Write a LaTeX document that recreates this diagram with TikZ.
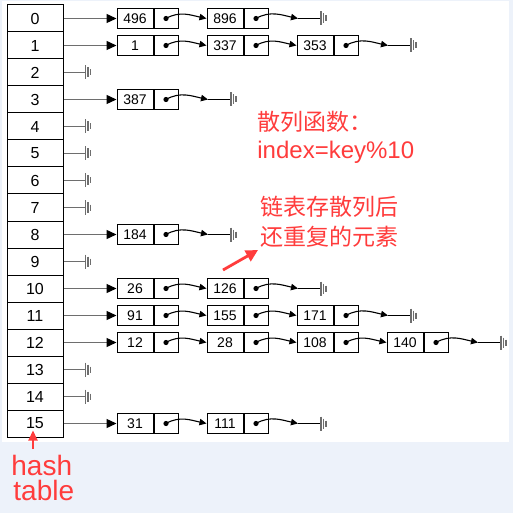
\documentclass[tikz,border=0pt]{standalone}
\usepackage{fontspec}
\setmainfont{Liberation Sans}
\newfontfamily\cjk{Noto Sans CJK SC}
\usetikzlibrary{arrows.meta,positioning}
\definecolor{pagebg}{HTML}{EDF2FA}
\definecolor{hashred}{HTML}{FF3C3C}
\definecolor{wiregrey}{HTML}{6E6E6E}
\tikzset{
  slot/.style={draw, line width=0.5pt, minimum width=28pt, minimum height=13.5pt,
               inner sep=0pt, font=\fontsize{8}{9}\selectfont},
  keybox/.style={draw, line width=0.5pt, minimum width=18pt, minimum height=10pt,
                 inner sep=0pt, font=\fontsize{7}{8}\selectfont},
  ptrbox/.style={draw, line width=0.5pt, minimum width=12pt, minimum height=10pt,
                 inner sep=0pt},
  entry/.style={-{Triangle[length=5pt,width=4.5pt,color=black]}, line width=0.7pt,
                draw=wiregrey},
  hop/.style={-{Triangle[length=3.5pt,width=3.2pt]}, line width=0.55pt,
              out=30, in=168},
  wire/.style={line width=0.6pt, draw=wiregrey},
  note/.style={font=\cjk\fontsize{11.5}{14}\selectfont, text=hashred, inner sep=1pt},
  pointer/.style={-{Triangle[length=6pt,width=6pt]}, line width=1.4pt, draw=hashred},
  gnd/.pic={\draw[wiregrey, line width=0.75pt] (0,-7) -- (0,7) (2.5,-5) -- (2.5,5)
            (5,-3) -- (5,3);},
}

\begin{document}
\begin{tikzpicture}[x=0.5pt, y=-0.5pt]
\fill[pagebg] (0,0) rectangle (513,513);
\fill[white] (2,1) rectangle (509,442);
\useasboundingbox (0,0) rectangle (513,513);

% ---------- the table ---------------------------------------------------
\foreach \r in {0,...,15}{
  \node[slot] (t\r) at (35,18.5+27*\r) {\r};}

% empty buckets end at once
\foreach \r in {2,4,5,6,7,9,13,14}{
  \path (t\r.east) ++(22,0) coordinate (g\r);
  \draw[wire] (t\r.east) -- (g\r);
  \pic at (g\r) {gnd};}

% ---------- the chains --------------------------------------------------
% row / length / keys
\foreach \r/\n/\keys in {0/2/{496,896}, 1/3/{1,337,353}, 3/1/{387}, 8/1/{184},
    10/2/{26,126}, 11/3/{91,155,171}, 12/4/{12,28,108,140}, 15/2/{31,111}}{
  \foreach \k [count=\c] in \keys{
    \node[keybox] (k\r-\c) at (45+90*\c, 18.5+27*\r) {\k};
    \node[ptrbox, right=0pt of k\r-\c] (p\r-\c) {};
    \fill (p\r-\c.center) circle[radius=1.3pt];
    \ifnum\c>1
      \pgfmathtruncatemacro\b{\c-1}
      \draw[hop] (p\r-\b.center) to (k\r-\c.west);
    \fi}
  \draw[entry] (t\r.east) -- (k\r-1.west);
  \path (p\r-\n.center) ++(42,0) coordinate (e\r) ++(23,0) coordinate (g\r);
  \draw[hop] (p\r-\n.center) to (e\r);
  \draw[line width=0.6pt] (e\r) -- (g\r);
  \pic at (g\r) {gnd};}

% ---------- the notes ---------------------------------------------------
\node[note, anchor=west] (fn) at (255,122) {散列函数：};
\node[note, anchor=west, font=\fontsize{12}{14}\selectfont] (fx) at (255,152)
   {index=key\%10};
\node[note, anchor=west] (dup1) at (258,207) {链表存散列后};
\node[note, anchor=west] (dup2) at (258,237) {还重复的元素};
\coordinate (dupfoot) at (223,270);
\draw[pointer] (dupfoot) -- (dup2.south west);

\node[note, anchor=base west, font=\fontsize{14}{16}\selectfont] (hash) at (9,475) {hash};
\node[note, anchor=base west, font=\fontsize{14}{16}\selectfont] (tbl) at (11,500) {table};
\coordinate (hashfoot) at (33,449);
\draw[pointer, line width=1pt, -{Triangle[length=5pt,width=4.5pt]}]
   (hashfoot) -- ([xshift=-1pt, yshift=3.5pt]t15.south);
\end{tikzpicture}
\end{document}
